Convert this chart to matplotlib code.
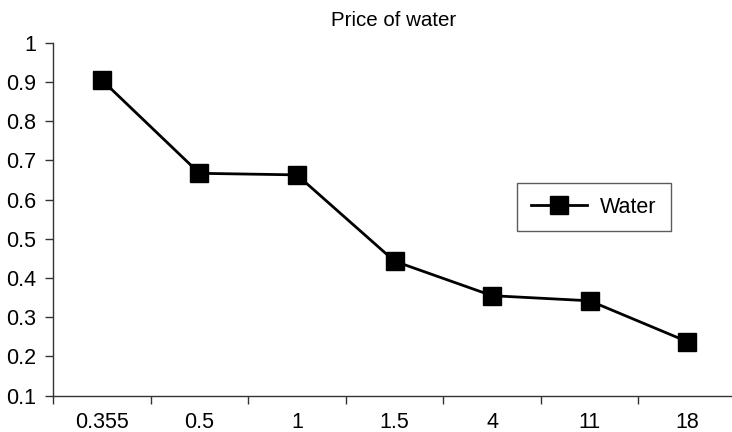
import matplotlib
matplotlib.use("Agg")
import matplotlib.pyplot as plt
from matplotlib.ticker import FixedLocator, NullFormatter, FixedFormatter

plt.rcParams['font.family'] = ['Liberation Sans', 'DejaVu Sans']

categories = ["0.355", "0.5", "1", "1.5", "4", "11", "18"]
water = [0.905, 0.667, 0.663, 0.443, 0.355, 0.342, 0.238]
yticks = [0.1, 0.2, 0.3, 0.4, 0.5, 0.6, 0.7, 0.8, 0.9, 1.0]
ytick_labels = ["0.1", "0.2", "0.3", "0.4", "0.5", "0.6", "0.7", "0.8", "0.9", "1"]

W, H = 732, 432
fig = plt.figure(figsize=(W / 100, H / 100), dpi=100)
left, right, top, bottom = 53, 736, 42.7, 395.7
ax = fig.add_axes([left / W, (H - bottom) / H, (right - left) / W, (bottom - top) / H])

x = list(range(len(categories)))
ax.plot(x, water, color='black', lw=2.0, marker='s', markersize=13.5,
        markerfacecolor='black', markeredgecolor='black', label='Water', clip_on=False)

ax.set_xlim(-0.5, len(categories) - 0.5)
ax.set_ylim(0.1, 1.0)
ax.set_yticks(yticks)
ax.set_yticklabels(ytick_labels)

ax.xaxis.set_major_locator(FixedLocator([i - 0.5 for i in range(len(categories) + 1)]))
ax.xaxis.set_major_formatter(NullFormatter())
ax.xaxis.set_minor_locator(FixedLocator(x))
ax.xaxis.set_minor_formatter(FixedFormatter(categories))
ax.tick_params(axis='x', which='major', direction='out', length=6, width=1, color='#333333')
ax.tick_params(axis='x', which='minor', length=0, pad=11.5, labelsize=15.5)
ax.tick_params(axis='y', direction='out', length=6, width=1, color='#333333', pad=6, labelsize=15.5)

for s in ['top', 'right']:
    ax.spines[s].set_visible(False)
for s in ['left', 'bottom']:
    ax.spines[s].set_color('#333333')
    ax.spines[s].set_linewidth(1)

fig.text(394 / W, 1 - 20 / H, "Price of water", ha='center', va='center', fontsize=14.8)

leg = ax.legend(loc='center', bbox_to_anchor=(594 / W, 1 - 207 / H), bbox_transform=fig.transFigure,
                frameon=True, fancybox=False, fontsize=15.5, handlelength=2.6, handletextpad=0.6,
                borderpad=0.65, borderaxespad=0, markerscale=1.0)
leg.get_frame().set_edgecolor('#333333')
leg.get_frame().set_linewidth(1)

fig.savefig("out.png", dpi=100)
